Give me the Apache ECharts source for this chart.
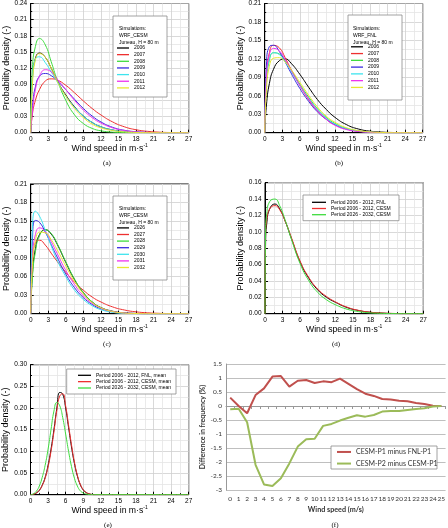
<!DOCTYPE html>
<html>
<head>
<meta charset="utf-8">
<script src="https://cdn.jsdelivr.net/npm/echarts@6/dist/echarts.min.js"></script>
<style>
html, body { margin: 0; padding: 0; background: #fff; }
#chart { width: 448px; height: 528px; }
</style>
</head>
<body>
<div id="chart"></div>
<script>
// wind speed samples (m/s)
const xA = [0, 0.3, 0.8, 1.5, 2.5, 3.5, 4.5, 6, 7.5, 9, 10.5, 12, 14, 16, 18, 20, 22, 24, 27];
const xD = [0, 0.1, 0.3, 0.8, 1.7, 2.5, 3.5, 4.5, 6, 7.5, 9, 10.5, 12, 14, 16, 18, 20, 22, 24, 27];
const xE = [0, 0.5, 1, 1.5, 2, 2.5, 3, 3.5, 4, 4.5, 5, 5.5, 6, 6.5, 7, 7.5, 8, 8.5, 9, 9.5, 10, 10.5, 11, 27];

// (a) WRF_CESM 2006-2012
const a2006 = [0, 0.100, 0.138, 0.148, 0.140, 0.120, 0.097, 0.070, 0.048, 0.031, 0.019, 0.011, 0.005, 0.002, 0.0008, 0.0002, 0, 0, 0];
const a2007 = [0, 0.035, 0.060, 0.080, 0.096, 0.100, 0.098, 0.088, 0.074, 0.059, 0.045, 0.033, 0.020, 0.011, 0.0055, 0.0025, 0.001, 0.0003, 0];
const a2008 = [0, 0.120, 0.160, 0.175, 0.163, 0.132, 0.099, 0.060, 0.033, 0.017, 0.008, 0.0035, 0.001, 0.0002, 0, 0, 0, 0, 0];
const a2009 = [0, 0.050, 0.085, 0.105, 0.110, 0.106, 0.097, 0.080, 0.062, 0.045, 0.031, 0.020, 0.010, 0.0045, 0.0018, 0.0006, 0.0002, 0, 0];
const a2010 = [0, 0.100, 0.137, 0.141, 0.130, 0.113, 0.095, 0.068, 0.047, 0.031, 0.019, 0.011, 0.005, 0.002, 0.0007, 0.0002, 0, 0, 0];
const a2011 = [0, 0.040, 0.080, 0.105, 0.117, 0.113, 0.100, 0.080, 0.060, 0.042, 0.028, 0.018, 0.009, 0.004, 0.0015, 0.0005, 0, 0, 0];
const a2012 = [0, 0.090, 0.135, 0.147, 0.140, 0.120, 0.096, 0.068, 0.045, 0.028, 0.016, 0.009, 0.004, 0.0015, 0.0005, 0.0001, 0, 0, 0];

// (b) WRF_FNL 2006-2012
const b2006 = [0, 0.045, 0.080, 0.103, 0.117, 0.120, 0.113, 0.095, 0.074, 0.054, 0.038, 0.025, 0.013, 0.006, 0.0025, 0.001, 0.0003, 0, 0];
const b2007 = [0, 0.090, 0.130, 0.142, 0.138, 0.122, 0.103, 0.077, 0.054, 0.036, 0.022, 0.013, 0.006, 0.0025, 0.001, 0.0003, 0, 0, 0];
const b2008 = [0, 0.080, 0.118, 0.130, 0.128, 0.117, 0.102, 0.079, 0.058, 0.039, 0.025, 0.015, 0.007, 0.003, 0.001, 0.0003, 0, 0, 0];
const b2009 = [0, 0.110, 0.140, 0.142, 0.132, 0.115, 0.097, 0.072, 0.051, 0.034, 0.022, 0.013, 0.006, 0.0025, 0.001, 0.0003, 0, 0, 0];
const b2010 = [0, 0.085, 0.120, 0.130, 0.127, 0.115, 0.100, 0.077, 0.056, 0.038, 0.024, 0.014, 0.0065, 0.0027, 0.001, 0.0003, 0, 0, 0];
const b2011 = [0, 0.090, 0.127, 0.137, 0.133, 0.119, 0.102, 0.077, 0.055, 0.036, 0.022, 0.012, 0.005, 0.002, 0.0007, 0.0002, 0, 0, 0];
const b2012 = [0, 0.070, 0.108, 0.121, 0.122, 0.115, 0.103, 0.082, 0.061, 0.042, 0.027, 0.017, 0.008, 0.0035, 0.0013, 0.0004, 0, 0, 0];

// (c) WRF_CESM 2026-2032
const c2026 = [0, 0.065, 0.105, 0.128, 0.136, 0.129, 0.113, 0.083, 0.055, 0.034, 0.019, 0.010, 0.004, 0.0013, 0.0004, 0, 0, 0, 0];
const c2027 = [0, 0.085, 0.115, 0.119, 0.111, 0.098, 0.085, 0.067, 0.051, 0.038, 0.027, 0.019, 0.011, 0.006, 0.003, 0.0014, 0.0006, 0.0002, 0];
const c2028 = [0, 0.060, 0.100, 0.126, 0.136, 0.130, 0.114, 0.084, 0.056, 0.034, 0.019, 0.0095, 0.0035, 0.001, 0.0003, 0, 0, 0, 0];
const c2029 = [0, 0.120, 0.151, 0.148, 0.132, 0.112, 0.092, 0.064, 0.042, 0.026, 0.015, 0.008, 0.003, 0.001, 0.0003, 0, 0, 0, 0];
const c2030 = [0, 0.140, 0.166, 0.158, 0.135, 0.110, 0.087, 0.060, 0.038, 0.023, 0.013, 0.0065, 0.0022, 0.0006, 0.0001, 0, 0, 0, 0];
const c2031 = [0, 0.090, 0.128, 0.139, 0.133, 0.117, 0.098, 0.070, 0.047, 0.029, 0.017, 0.009, 0.0035, 0.0012, 0.0003, 0, 0, 0, 0];
const c2032 = [0, 0.080, 0.118, 0.132, 0.131, 0.120, 0.104, 0.077, 0.052, 0.032, 0.018, 0.0095, 0.0035, 0.0011, 0.0003, 0, 0, 0, 0];

// (d) period comparison
const dFnl = [0, 0.085, 0.110, 0.128, 0.134, 0.128, 0.112, 0.092, 0.063, 0.043, 0.029, 0.020, 0.014, 0.0075, 0.0038, 0.0017, 0.0007, 0.0002, 0, 0];
const dCesm1 = [0, 0.095, 0.115, 0.128, 0.132, 0.127, 0.112, 0.093, 0.064, 0.044, 0.030, 0.021, 0.0145, 0.008, 0.004, 0.0018, 0.0008, 0.0003, 0, 0];
const dCesm2 = [0, 0.100, 0.122, 0.137, 0.140, 0.132, 0.113, 0.091, 0.061, 0.040, 0.026, 0.017, 0.011, 0.0055, 0.0025, 0.001, 0.0004, 0.0001, 0, 0];

// (e) period means
const eFnl = [0, 0.001, 0.004, 0.010, 0.022, 0.040, 0.068, 0.105, 0.150, 0.200, 0.236, 0.232, 0.200, 0.155, 0.110, 0.072, 0.043, 0.023, 0.011, 0.005, 0.002, 0.0005, 0, 0];
const eCesm1 = [0, 0.001, 0.004, 0.010, 0.021, 0.038, 0.064, 0.100, 0.145, 0.195, 0.228, 0.233, 0.205, 0.160, 0.115, 0.075, 0.045, 0.024, 0.012, 0.005, 0.002, 0.0005, 0, 0];
const eCesm2 = [0, 0.002, 0.008, 0.020, 0.040, 0.068, 0.105, 0.150, 0.193, 0.213, 0.205, 0.178, 0.140, 0.100, 0.065, 0.038, 0.020, 0.009, 0.004, 0.0015, 0.0004, 0, 0, 0];

// (f) differences in frequency (%)
const fCats = ['0','1','2','3','4','5','6','7','8','9','10','11','12','13','14','15','16','17','18','19','20','21','22','23','24','25'];
const fP1 = [0.30, 0.00, -0.26, 0.39, 0.63, 1.05, 1.07, 0.69, 0.90, 0.93, 0.82, 0.88, 0.85, 0.98, 0.79, 0.60, 0.44, 0.36, 0.25, 0.23, 0.19, 0.17, 0.11, 0.07, 0.01, 0.00];
const fP2 = [-0.12, -0.10, -0.58, -2.10, -2.80, -2.86, -2.58, -2.05, -1.45, -1.19, -1.17, -0.71, -0.64, -0.52, -0.42, -0.33, -0.38, -0.32, -0.20, -0.18, -0.18, -0.14, -0.11, -0.08, -0.02, 0.00];

const yearColors = ['#000000', '#ee3030', '#3fdc3f', '#3a2ce0', '#3ee4ee', '#ee33ee', '#e8e830'];
const SANS = 'Liberation Sans';

const chart = echarts.init(document.getElementById('chart'));

function pairs(xs, ys) {
    return xs.map((x, i) => [x, ys[i]]);
}

function curve(name, color, xs, ys, gi) {
    return {
        name: name,
        type: 'line',
        xAxisIndex: gi,
        yAxisIndex: gi,
        data: pairs(xs, ys),
        smooth: 0.5,
        symbol: 'none',
        lineStyle: { color: color, width: 1 },
        itemStyle: { color: color },
        animation: false
    };
}

function originX(gi) {
    return {
        type: 'value', gridIndex: gi, min: 0, max: 27, interval: 3,
        name: '{a|Wind speed in m·s}{b|-1}',
        nameLocation: 'middle', nameGap: 6,
        nameTextStyle: {
            rich: {
                a: { fontFamily: SANS, fontSize: 8.7, color: '#000', lineHeight: 11 },
                b: { fontFamily: SANS, fontSize: 5, color: '#000', lineHeight: 6, verticalAlign: 'top' }
            }
        },
        axisLine: { show: true, lineStyle: { color: '#000', width: 1 } },
        axisTick: { show: true, inside: true, length: 3, lineStyle: { color: '#000' } },
        minorTick: { show: true, splitNumber: 2, length: 1.5, lineStyle: { color: '#000' } },
        axisLabel: { fontFamily: SANS, fontSize: 6.5, color: '#000', margin: 3 },
        splitLine: { show: true, lineStyle: { color: '#cfcfcf', width: 0.8 } },
        minorSplitLine: { show: true, lineStyle: { color: '#e4e4e4', width: 0.8 } }
    };
}

function originY(gi, max, step, gap) {
    return {
        type: 'value', gridIndex: gi, min: 0, max: max, interval: step,
        name: 'Probability density (-)',
        nameLocation: 'middle', nameGap: gap,
        nameTextStyle: { fontFamily: SANS, fontSize: 9, color: '#000' },
        axisLine: { show: true, lineStyle: { color: '#000', width: 1 } },
        axisTick: { show: true, inside: true, length: 3, lineStyle: { color: '#000' } },
        minorTick: { show: true, splitNumber: 2, length: 1.5, lineStyle: { color: '#000' } },
        axisLabel: { fontFamily: SANS, fontSize: 6.5, color: '#000', margin: 3.5,
            formatter: v => v.toFixed(2) },
        splitLine: { show: true, lineStyle: { color: '#cfcfcf', width: 0.8 } },
        minorSplitLine: { show: true, lineStyle: { color: '#e4e4e4', width: 0.8 } }
    };
}

function boxLegend(names, left, top, gap, w) {
    return {
        data: names, orient: 'vertical', left: left, top: top, padding: 0,
        itemGap: gap, itemWidth: w || 12, itemHeight: 1.3, icon: 'rect',
        textStyle: { fontFamily: SANS, fontSize: 5, color: '#000', lineHeight: 5 },
        selectedMode: false
    };
}

function panelBox(x, y, w, h) {
    return { type: 'rect', z: 3, shape: { x: x, y: y, width: w, height: h },
        style: { fill: '#fff', stroke: '#8c8c8c', lineWidth: 0.8 } };
}

function headText(x, y, str) {
    return { type: 'text', z: 4, x: x, y: y,
        style: { text: str, font: '5px "Liberation Sans"', lineHeight: 6.65, fill: '#000' } };
}

function tag(x, y, str) {
    return { type: 'text', z: 4, x: x, y: y,
        style: { text: str, font: '7px "Liberation Serif"', fill: '#000', align: 'center', verticalAlign: 'middle' } };
}

const yearsA = ['2006', '2007', '2008', '2009', '2010', '2011', '2012'];
const yearsC = ['2026', '2027', '2028', '2029', '2030', '2031', '2032'];
const dataA = [a2006, a2007, a2008, a2009, a2010, a2011, a2012];
const dataB = [b2006, b2007, b2008, b2009, b2010, b2011, b2012];
const dataC = [c2026, c2027, c2028, c2029, c2030, c2031, c2032];

const namesD = ['Period 2006 - 2012, FNL', 'Period 2006 - 2012, CESM', 'Period 2026 - 2032, CESM'];
const namesE = ['Period 2006 - 2012, FNL, mean', 'Period 2006 - 2012, CESM, mean', 'Period 2026 - 2032, CESM, mean'];
const namesF = ['CESM-P1 minus FNL-P1', 'CESM-P2 minus CESM-P1'];
const periodColors = ['#000000', '#ee3030', '#3fdc3f'];

let series = [];
yearsA.forEach((y, i) => series.push(curve(y, yearColors[i], xA, dataA[i], 0)));
yearsA.forEach((y, i) => series.push(curve(y, yearColors[i], xA, dataB[i], 1)));
yearsC.forEach((y, i) => series.push(curve(y, yearColors[i], xA, dataC[i], 2)));
[dFnl, dCesm1, dCesm2].forEach((d, i) => series.push(curve(namesD[i], periodColors[i], xD, d, 3)));
[eFnl, eCesm1, eCesm2].forEach((d, i) => series.push(curve(namesE[i], periodColors[i], xE, d, 4)));

series.push({ name: namesF[0], type: 'line', xAxisIndex: 5, yAxisIndex: 5, data: fP1,
    symbol: 'none', lineStyle: { color: '#c0504d', width: 2 }, itemStyle: { color: '#c0504d' }, animation: false });
series.push({ name: namesF[1], type: 'line', xAxisIndex: 5, yAxisIndex: 5, data: fP2,
    symbol: 'none', lineStyle: { color: '#9bbb59', width: 2 }, itemStyle: { color: '#9bbb59' }, animation: false });

const gridStyle = { show: true, borderColor: '#000', borderWidth: 1, backgroundColor: '#fff' };

let option = {
    animation: false,
    grid: [
        Object.assign({ left: 30.7, top: 1, width: 158, height: 131.7 }, gridStyle),
        Object.assign({ left: 264.7, top: 1, width: 158, height: 131.7 }, gridStyle),
        Object.assign({ left: 30.7, top: 184, width: 158, height: 129.7 }, gridStyle),
        Object.assign({ left: 265, top: 182.7, width: 158.3, height: 131 }, gridStyle),
        Object.assign({ left: 30.5, top: 364.7, width: 158.2, height: 130 }, gridStyle),
        { left: 226, top: 364, width: 226, height: 126 }
    ],
    xAxis: [
        originX(0), originX(1), originX(2), originX(3), originX(4),
        {
            type: 'category', gridIndex: 5, data: fCats, boundaryGap: true,
            name: 'Wind speed (m/s)', nameLocation: 'middle', nameGap: 16,
            nameTextStyle: { fontFamily: 'Lato', fontWeight: 'bold', fontSize: 7.2, color: '#333' },
            axisLine: { show: true, lineStyle: { color: '#999' } },
            axisTick: { show: true, length: 3, lineStyle: { color: '#999' } },
            axisLabel: { fontFamily: 'Lato', fontSize: 6.5, color: '#333', margin: 5, interval: 0 },
            splitLine: { show: false }
        }
    ],
    yAxis: [
        originY(0, 0.24, 0.03, 15),
        originY(1, 0.21, 0.03, 17),
        originY(2, 0.21, 0.03, 15.5),
        originY(3, 0.16, 0.02, 15.5),
        originY(4, 0.30, 0.05, 15),
        {
            type: 'value', gridIndex: 5, min: -3, max: 1.5, interval: 0.5,
            name: 'Difference in frequency (%)', nameLocation: 'middle', nameGap: 20,
            nameTextStyle: { fontFamily: 'Lato', fontWeight: 'bold', fontSize: 7, color: '#333' },
            axisLine: { show: true, lineStyle: { color: '#999' } },
            axisTick: { show: false },
            axisLabel: { fontFamily: 'Lato', fontSize: 6.5, color: '#333', margin: 4 },
            splitLine: { show: true, lineStyle: { color: '#bfbfbf', width: 1 } }
        }
    ],
    legend: [
        boxLegend(yearsA, 117, 45.5, 1.65),
        boxLegend(yearsA, 351, 44.3, 1.77),
        boxLegend(yearsC, 117, 225.4, 1.6),
        boxLegend(namesD, 312, 199.8, 1.2, 14),
        boxLegend(namesE, 78, 372.8, 1.35, 13),
        {
            data: namesF, orient: 'vertical', left: 337, top: 447.8, padding: 0,
            itemGap: 3.3, itemWidth: 14, itemHeight: 2, icon: 'rect', selectedMode: false,
            textStyle: { fontFamily: 'Lato', fontSize: 7, color: '#333', lineHeight: 8.3 }
        }
    ],
    graphic: [
        panelBox(113, 16, 54, 81),
        headText(119, 25.7, 'Simulations:\nWRF_CESM\nJuneau, H = 80 m'),
        panelBox(348, 15, 54, 85),
        headText(353, 25.7, 'Simulations:\nWRF_FNL\nJuneau, H = 80 m'),
        panelBox(113, 196, 54, 84),
        headText(119, 205.7, 'Simulations:\nWRF_CESM\nJuneau, H = 80 m'),
        panelBox(303, 195, 96, 25.7),
        panelBox(66.7, 369, 109.3, 25),
        { type: 'rect', z: 3, shape: { x: 331, y: 446, width: 106, height: 23 },
          style: { fill: '#fff', stroke: '#8c8c8c', lineWidth: 0.8 } },
        tag(107, 163.3, '(a)'),
        tag(339, 163.3, '(b)'),
        tag(107, 344.3, '(c)'),
        tag(336, 344.3, '(d)'),
        tag(108, 525, '(e)'),
        tag(335, 525, '(f)')
    ],
    series: series
};

chart.setOption(option);
</script>
</body>
</html>
